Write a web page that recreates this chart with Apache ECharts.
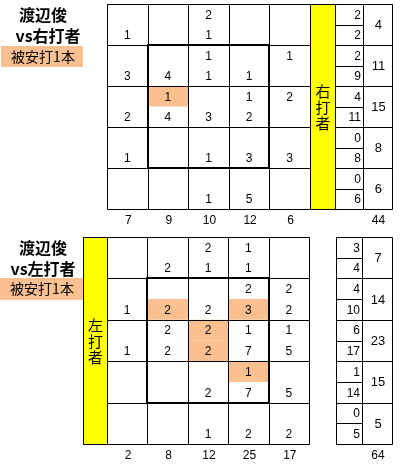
<!DOCTYPE html>
<html><head><meta charset="utf-8">
<script src="https://cdn.jsdelivr.net/npm/echarts@6/dist/echarts.min.js"></script>
<style>html,body{margin:0;padding:0;background:#fff}#c{width:400px;height:467px}</style>
</head><body><div id="c"></div>
<script>
// ---------- data ----------
// right-handed batters: upper / lower number per cell, rows top->bottom, cols left->right
const rightTop = [
  [null,null,2,null,null],
  [null,null,1,null,1],
  [null,1,null,1,2],
  [null,null,null,null,null],
  [null,null,null,null,null]
];
const rightBottom = [
  [1,null,1,null,null],
  [3,4,1,1,null],
  [2,4,3,2,null],
  [1,null,1,3,3],
  [null,null,1,5,null]
];
const rightHighlight = [[2,1,'top']];           // [row, col, half]
const rightRowTop = [2,2,4,0,0];
const rightRowBottom = [2,9,11,8,6];
const rightRowTotal = [4,11,15,8,6];
const rightColTotal = [7,9,10,12,6];
const rightGrand = 44;

// left-handed batters
const leftTop = [
  [null,null,2,1,null],
  [null,null,null,2,2],
  [null,2,2,1,1],
  [null,null,null,1,null],
  [null,null,null,null,null]
];
const leftBottom = [
  [null,2,1,1,null],
  [1,2,2,3,2],
  [1,2,2,7,5],
  [null,null,2,7,5],
  [null,null,1,2,2]
];
const leftHighlight = [[1,1,'bottom'],[1,3,'bottom'],[2,2,'top'],[2,2,'bottom'],[3,3,'top']];
const leftRowTop = [3,4,6,1,0];
const leftRowBottom = [4,10,17,14,5];
const leftRowTotal = [7,14,23,15,5];
const leftColTotal = [2,8,12,25,17];
const leftGrand = 64;

const pitcher = '渡辺俊';
const vsRight = 'vs右打者';
const vsLeft = 'vs左打者';
const hitLabel = '被安打1本';
const rightBand = '右\n打\n者';
const leftBand = '左\n打\n者';

// ---------- styling / layout ----------
const ORANGE = '#FAC090';
const YELLOW = '#FFFF00';
const NUMFONT = '12px "Liberation Sans", Arial, sans-serif';
const JPFONT = '"Noto Sans CJK JP", sans-serif';

const panels = [
  {top: rightTop, bottom: rightBottom, hl: rightHighlight, rowTop: rightRowTop, rowBottom: rightRowBottom,
   rowTotal: rightRowTotal, colTotal: rightColTotal, grand: rightGrand, band: rightBand,
   grid: {left:107, top:4, width:285, height:205}, xmin:0, xmax:7.02,
   yellow:[5,5.616], small:[5.616,6.305], total:[6.305,7.02]},
  {top: leftTop, bottom: leftBottom, hl: leftHighlight, rowTop: leftRowTop, rowBottom: leftRowBottom,
   rowTotal: leftRowTotal, colTotal: leftColTotal, grand: leftGrand, band: leftBand,
   grid: {left:83, top:237, width:309, height:207}, xmin:-0.594, xmax:7.054,
   yellow:[-0.594,0], small:[5.668,6.312], total:[6.312,7.054]}
];

const crisp = v => Math.round(v) + 0.5;
function txt(t, x, y, align, font) {
  return {type:'text', z2: 10, style:{text: String(t), x: x, y: y, align: align, verticalAlign:'middle',
    textAlign: align, textVerticalAlign:'middle', font: font || NUMFONT, fill:'#000'}};
}
function crect(x0, y0, x1, y1, fill, stroke, lw) {
  const ax = crisp(x0), ay = crisp(y0), bx = crisp(x1), by = crisp(y1);
  return {type:'rect', shape:{x:ax, y:ay, width:bx-ax, height:by-ay},
    style:{fill: fill || 'none', stroke: stroke || null, lineWidth: lw || 1}};
}

const grids = [], xAxes = [], yAxes = [], series = [];
panels.forEach((P, pi) => {
  grids.push(Object.assign({}, P.grid));
  xAxes.push({type:'value', gridIndex: pi, min: P.xmin, max: P.xmax, show: false});
  yAxes.push({type:'value', gridIndex: pi, min: 0, max: 5, inverse: true, show: false});

  // cells
  const cellData = [];
  for (let r = 0; r < 5; r++) for (let c = 0; c < 5; c++) cellData.push([c, r]);
  series.push({
    type:'custom', xAxisIndex: pi, yAxisIndex: pi, data: cellData, silent: true,
    renderItem: (params, api) => {
      const c = api.value(0), r = api.value(1);
      const a = api.coord([c, r]), b = api.coord([c + 1, r + 1]), m = api.coord([c + 1, r + 0.5]);
      const kids = [];
      kids.push(crect(a[0], a[1], b[0], b[1], '#fff', null));
      P.hl.forEach(h => {
        if (h[0] === r && h[1] === c) {
          const y0 = h[2] === 'top' ? a[1] : m[1];
          const y1 = h[2] === 'top' ? m[1] : b[1];
          kids.push({type:'rect', shape:{x:a[0], y:y0, width:b[0]-a[0], height:y1-y0}, style:{fill: ORANGE}});
        }
      });
      kids.push(crect(a[0], a[1], b[0], b[1], 'none', '#000'));
      const cx = (a[0] + b[0]) / 2;
      const tv = P.top[r][c], bv = P.bottom[r][c];
      if (tv !== null) kids.push(txt(tv, cx, api.coord([c, r + 0.25])[1] + 1, 'center'));
      if (bv !== null) kids.push(txt(bv, cx, api.coord([c, r + 0.75])[1] + 1, 'center'));
      return {type:'group', children: kids};
    }
  });

  // strike zone
  series.push({
    type:'custom', xAxisIndex: pi, yAxisIndex: pi, data: [[1, 1, 4, 4]], silent: true, z: 3,
    renderItem: (params, api) => {
      const a = api.coord([api.value(0), api.value(1)]), b = api.coord([api.value(2), api.value(3)]);
      const ax = Math.round(a[0]), ay = Math.round(a[1]), bx = Math.round(b[0]), by = Math.round(b[1]);
      return {type:'rect', shape:{x:ax, y:ay, width:bx-ax, height:by-ay},
        style:{fill:'none', stroke:'#000', lineWidth: 2}};
    }
  });

  // yellow band
  series.push({
    type:'custom', xAxisIndex: pi, yAxisIndex: pi, data: [[P.yellow[0], P.yellow[1]]], silent: true, z: 3,
    renderItem: (params, api) => {
      const a = api.coord([api.value(0), 0]), b = api.coord([api.value(1), 5]);
      return {type:'group', children:[
        crect(a[0], a[1], b[0], b[1], YELLOW, '#000'),
        {type:'text', z2: 10, style:{text: P.band, x: (a[0] + b[0]) / 2 + 0.5, y: (a[1] + b[1]) / 2 + 1,
          align:'center', verticalAlign:'middle', textAlign:'center', textVerticalAlign:'middle',
          font: '15px ' + JPFONT, lineHeight: 16, fill:'#000'}}
      ]};
    }
  });

  // row summaries
  const rowData = [];
  for (let r = 0; r < 5; r++) rowData.push([r, P.rowTop[r], P.rowBottom[r], P.rowTotal[r]]);
  series.push({
    type:'custom', xAxisIndex: pi, yAxisIndex: pi, data: rowData, silent: true,
    renderItem: (params, api) => {
      const r = api.value(0);
      const a = api.coord([P.small[0], r]), m = api.coord([P.small[1], r + 0.5]);
      const b = api.coord([P.small[1], r + 1]), t = api.coord([P.total[1], r + 1]);
      const kids = [
        crect(a[0], a[1], b[0], m[1], '#fff', '#000'),
        crect(a[0], m[1], b[0], b[1], '#fff', '#000'),
        crect(b[0], a[1], t[0], t[1], '#fff', '#000'),
        txt(api.value(1), b[0] - 2, (a[1] + m[1]) / 2 + 1, 'right'),
        txt(api.value(2), b[0] - 2, (m[1] + b[1]) / 2 + 1, 'right'),
        txt(api.value(3), (b[0] + t[0]) / 2 + 1, (a[1] + t[1]) / 2 + 1, 'center', '13px "Liberation Sans", Arial, sans-serif')
      ];
      return {type:'group', children: kids};
    }
  });

  // column totals + grand total
  const colData = P.colTotal.map((v, c) => [c + 0.5, v]);
  colData.push([(P.total[0] + P.total[1]) / 2, P.grand]);
  series.push({
    type:'custom', xAxisIndex: pi, yAxisIndex: pi, data: colData, silent: true,
    renderItem: (params, api) => {
      const p = api.coord([api.value(0), 5]);
      return txt(api.value(1), p[0] + 1, p[1] + 12, 'center');
    }
  });
});

const titleFont = 'bold 16px ' + JPFONT;
const graphic = [
  {type:'text', left:'center', style:{text: pitcher, x:43, y:15, align:'center', verticalAlign:'middle', font:titleFont, fill:'#000'}},
  {type:'text', style:{text: vsRight, x:48, y:36, align:'center', verticalAlign:'middle', font:titleFont, fill:'#000'}},
  {type:'rect', shape:{x:1, y:46, width:82, height:21}, style:{fill: ORANGE}},
  {type:'text', style:{text: hitLabel, x:43, y:57, align:'center', verticalAlign:'middle', font:'14px ' + JPFONT, fill:'#000'}},
  {type:'text', style:{text: pitcher, x:43, y:248, align:'center', verticalAlign:'middle', font:titleFont, fill:'#000'}},
  {type:'text', style:{text: vsLeft, x:43, y:269, align:'center', verticalAlign:'middle', font:titleFont, fill:'#000'}},
  {type:'rect', shape:{x:0, y:278, width:83, height:22}, style:{fill: ORANGE}},
  {type:'text', style:{text: hitLabel, x:42, y:289, align:'center', verticalAlign:'middle', font:'14px ' + JPFONT, fill:'#000'}}
];
// graphic text elements: remove left for absolute positioning
graphic.forEach(g => { delete g.left; });

const chart = echarts.init(document.getElementById('c'), null, {renderer:'canvas'});
chart.setOption({
  animation: false,
  backgroundColor: '#fff',
  grid: grids, xAxis: xAxes, yAxis: yAxes, series: series, graphic: graphic
});
</script></body></html>
